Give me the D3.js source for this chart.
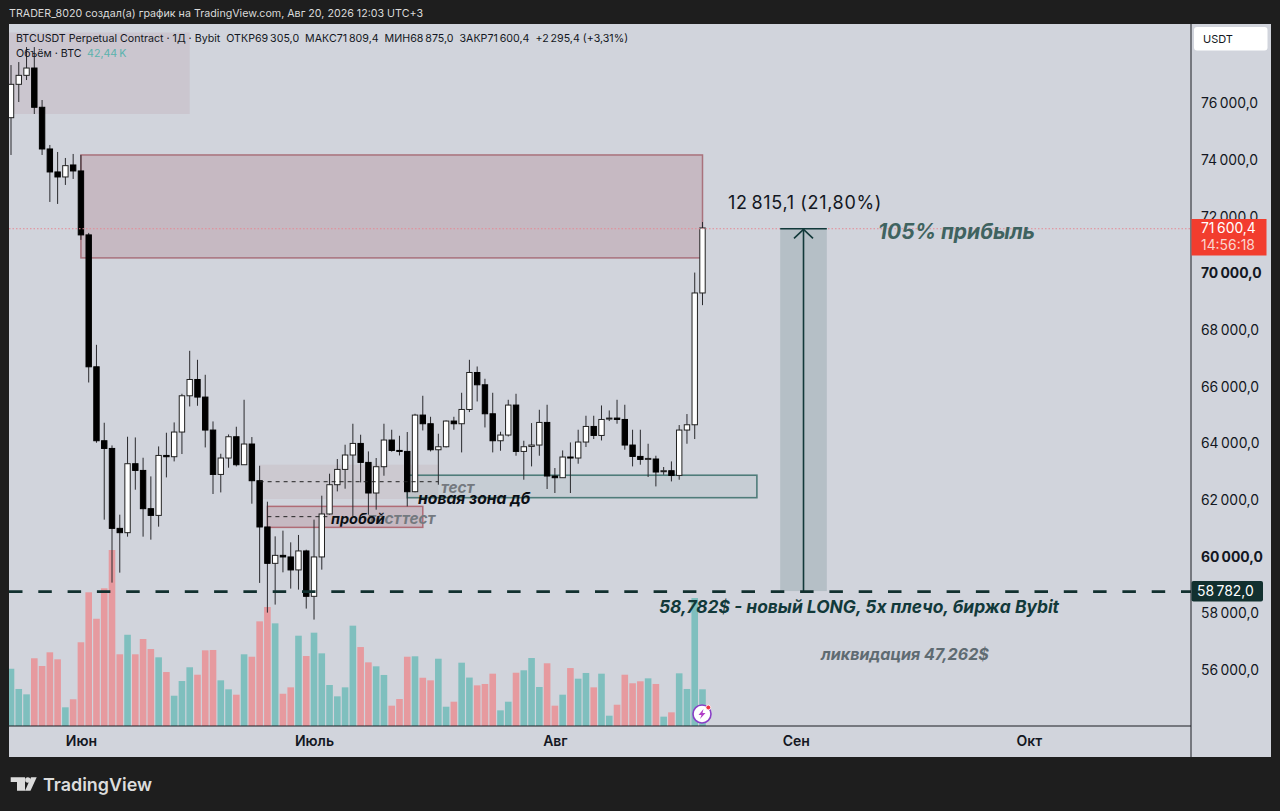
<!DOCTYPE html>
<html><head><meta charset="utf-8">
<script src="https://cdn.jsdelivr.net/npm/d3@7/dist/d3.min.js"></script>
<style>
html,body{margin:0;padding:0;background:#1e1e1e;overflow:hidden}
svg{display:block}
text{font-family:Inter,"Noto Sans",sans-serif}
</style></head><body>
<svg id="c" width="1280" height="811"></svg>
<script>
const firstDay = new Date(2026, 4, 23);
const opens = [75492,76670,76987,77245,75859,74388,73577,73400,73823,73612,71355,66699,64089,63817,60996,60844,63278,63041,61691,61454,63570,63525,64396,65676,66251,65630,64466,62900,63479,64230,63242,63973,62678,61045,59761,60043,59987,59529,60199,58597,59987,61504,62537,63077,63585,63994,63324,62244,63172,64114,63747,63712,62290,64995,64689,63771,63877,64784,64689,65193,66498,66064,65041,64089,64290,65348,63712,63888,63937,64735,62844,62784,63514,63479,64043,64593,64276,64854,64889,64840,63937,63535,63444,63444,63006,63031,62865,64466,64653,69305];
const closes = [76670,76987,77245,75859,74388,73577,73400,73799,73612,71355,66699,64089,63817,60996,60844,63278,63041,61691,61454,63570,63525,64396,65676,66251,65630,64466,62900,63479,64230,63242,63973,62678,61045,59761,60043,59987,59529,60199,58597,59987,61504,62537,63077,63585,63994,63324,62244,63172,64114,63747,63712,62290,64995,64689,63771,63877,64784,64689,65193,66498,66064,65041,64089,64290,65348,63712,63877,63937,64735,62844,62784,63514,63479,64043,64593,64276,64840,64889,64840,63937,63535,63429,63465,62985,63031,62865,64466,64653,69305,71600.4];
const highs = [77350,77456,77985,77985,76116,74529,74282,74070,74211,74176,71425,67475,64724,63923,61479,64230,64205,63489,62830,63888,64371,64735,65747,67263,66946,66417,64770,63630,64311,64583,65535,64219,63207,61937,60714,60915,60502,60763,60244,61303,62149,62925,63444,63948,64689,64301,63712,63479,64689,64477,64265,64396,65041,65676,64935,64336,64805,64935,65782,66946,66710,66276,65782,64406,65535,65747,64089,64713,65182,65359,63126,63747,64029,64477,64971,64971,65334,65158,65535,65359,64477,64477,63983,63560,63161,63359,64643,65031,70025,71809.4];
const lows = [74176,76045,76821,75622,74176,72518,72448,73118,73330,71178,66145,64018,61303,59081,59433,60703,62361,60703,60597,61056,62795,63359,63620,65299,65323,63853,62209,62265,63137,63183,63242,61867,59070,58022,58305,59444,58869,58834,58164,57776,59539,61479,62301,62396,61419,62618,61479,61655,62854,63701,63570,61772,62270,64452,63712,62537,63853,64477,63677,65101,65475,64558,63677,63736,64240,63560,62713,63183,63560,62385,62244,62784,62244,63278,63867,64149,64099,64784,64689,63771,63183,63242,62809,62477,62890,62653,62713,63983,64149,68875];
const volumes = [66.2,42.8,36.6,78.3,69.4,85.2,77.1,21.6,30.9,96.8,154.6,124,159.2,203.5,82.9,105.5,82.9,100.6,89,79.4,62.4,35,52,67.9,59.3,87.5,87.9,52.8,42.4,36.2,82.9,80.1,121,137.6,118.7,37.3,44.7,104.4,80.9,107.9,84,47.4,34.3,44.7,116,91.3,73.6,69,59,23.5,31.2,80.1,80.6,55.8,52.8,77.8,22.3,28.1,73.2,56,47,48.6,60.5,18.1,28.1,61.6,64.4,78.6,45.1,72.5,23.5,36.2,67,54.7,61.3,44.7,60.5,11.9,24.6,59.3,49.4,51.7,55.1,48.6,10.8,15.8,60.9,42.8,148,42.44];
const priceTicks = [76000,74000,72000,70000,68000,66000,64000,62000,60000,58000,56000];
const boldTicks = [70000,60000];
const monthDates = [new Date(2026,5,1),new Date(2026,6,1),new Date(2026,7,1),new Date(2026,8,1),new Date(2026,9,1)];
const monthNames = ["Июн","Июль","Авг","Сен","Окт"];
const entryPrice = 58782, lastPrice = 71600.4;
const zoneTopLeft = [-2,23,78500,75622];
const zoneGrey = [32,55,63242,62033];
const zoneSupply = [9,89,74176,70543];
const zoneBreak = [33,53,61772,61031];
const zoneDemand = [51,96,62872,62079];
const dashGrey = [32,55,62643];
const dashBreak = [33,41,61409];
const measure = [99,105];

const at = i => new Date(+firstDay + i*864e5);
const x = d3.scaleTime().domain([at(0),at(89)]).range([11,702.5]);
const y = d3.scaleLinear().domain([76000,56000]).range([103.3,669.9]);
const v = d3.scaleLinear().domain([0,203.5]).range([726,550]);
const svg = d3.select("#c");
const DARK="#1e1e1e";

svg.append("rect").attr("width",1280).attr("height",811).attr("fill",DARK);
svg.append("rect").attr("x",9).attr("y",24).attr("width",1262).attr("height",733).attr("fill","#d1d4dc");
svg.append("rect").attr("x",1271).attr("y",24).attr("width",9).attr("height",733).attr("fill",DARK);
svg.append("defs").append("clipPath").attr("id","pane").append("rect").attr("x",9).attr("y",24).attr("width",1182).attr("height",702);
const pane = svg.append("g").attr("clip-path","url(#pane)");

const idx = d3.range(opens.length);
const up = i => closes[i] >= opens[i];

pane.append("g").selectAll("rect").data(idx).join("rect")
  .attr("x",i=>x(at(i))-3.3).attr("width",6.6)
  .attr("y",i=>v(volumes[i])).attr("height",i=>726-v(volumes[i]))
  .attr("fill",i=>up(i)?"#7fbfbe":"#e69a9f");

const box=(z,fill,stroke,sw)=>pane.append("rect")
  .attr("x",x(at(z[0]))).attr("width",x(at(z[1]))-x(at(z[0])))
  .attr("y",y(z[2])).attr("height",y(z[3])-y(z[2]))
  .attr("fill",fill).attr("stroke",stroke||"none").attr("stroke-width",sw||0);

box(zoneTopLeft,"rgba(178,140,150,.18)");
box(zoneGrey,"rgba(178,140,150,.16)");
box(zoneSupply,"rgba(170,115,125,.27)","#a9727c",1.5);
box(zoneBreak,"rgba(170,115,125,.27)","#b06c76",1.5);
box(zoneDemand,"rgba(120,160,160,.13)","#4f7c7a",1.6);

const cg = pane.append("g");
cg.selectAll("line").data(idx).join("line")
  .attr("x1",i=>x(at(i))).attr("x2",i=>x(at(i)))
  .attr("y1",i=>y(highs[i])).attr("y2",i=>y(lows[i]))
  .attr("stroke","#2a2a2e").attr("stroke-width",1);
cg.selectAll("rect").data(idx).join("rect")
  .attr("x",i=>x(at(i))-2.7).attr("width",5.4)
  .attr("y",i=>y(Math.max(opens[i],closes[i])))
  .attr("height",i=>Math.max(1,Math.abs(y(opens[i])-y(closes[i]))))
  .attr("fill",i=>up(i)?"#fff":"#000").attr("stroke",i=>up(i)?"#222":"#000").attr("stroke-width",1);

const dash=(d)=>pane.append("line").attr("x1",x(at(d[0]))).attr("x2",x(at(d[1])))
  .attr("y1",y(d[2])).attr("y2",y(d[2])).attr("stroke","#222").attr("stroke-width",1).attr("stroke-dasharray","4 4");
dash(dashGrey);dash(dashBreak);

pane.append("line").attr("x1",9).attr("x2",1191).attr("y1",y(lastPrice)+.8).attr("y2",y(lastPrice)+.8)
  .attr("stroke","#e58a94").attr("stroke-width",1).attr("stroke-dasharray","1.5 2");

pane.append("rect").attr("x",x(at(measure[0]))).attr("width",x(at(measure[1]))-x(at(measure[0])))
  .attr("y",y(lastPrice)).attr("height",y(entryPrice)-y(lastPrice)).attr("fill","#b5bfc6");
const mx=x(at((measure[0]+measure[1])/2));
const AC="#12393a";
pane.append("line").attr("x1",x(at(measure[0]))).attr("x2",x(at(measure[1])))
  .attr("y1",y(lastPrice)+.8).attr("y2",y(lastPrice)+.8).attr("stroke",AC).attr("stroke-width",1.6);
pane.append("line").attr("x1",mx).attr("x2",mx).attr("y1",y(lastPrice)).attr("y2",y(entryPrice)).attr("stroke",AC).attr("stroke-width",1.6);
pane.append("path").attr("d",`M${mx-9.5},${y(lastPrice)+10.5}L${mx},${y(lastPrice)+1.5}L${mx+9.5},${y(lastPrice)+10.5}`)
  .attr("fill","none").attr("stroke",AC).attr("stroke-width",1.6);

pane.append("line").attr("x1",9).attr("x2",1191).attr("y1",y(entryPrice)+.5).attr("y2",y(entryPrice)+.5)
  .attr("stroke","#12302f").attr("stroke-width",2.6).attr("stroke-dasharray","13.5 15.8");

const ann=(t,xp,yp,size,col,w,anchor)=>svg.append("text").text(t).attr("x",xp).attr("y",yp)
  .attr("font-size",size).attr("fill",col).attr("font-weight",w||700).attr("font-style","italic")
  .attr("text-anchor",anchor||"start");
ann("тест",441,493,15.4,"#74797f");
ann("тест",368,524,15.4,"#74797f");
ann("тест",402,524,15.4,"#74797f");
ann("новая зона дб",418,504,15.7,"#0b0f14");
ann("пробой",331,524,14.5,"#0b0f14");
ann("105% прибыль",878,239,21,"#3f6360");
ann("58,782$ - новый LONG, 5x плечо, биржа Bybit",659,613,17.4,"#12393a");
ann("ликвидация 47,262$",821,660,16.1,"#5f6b72");
svg.append("text").text("12\u2009815,1 (21,80%)").attr("x",728).attr("y",209).attr("font-size",18).attr("fill","#131722").attr("letter-spacing",.65);

svg.append("line").attr("x1",1191).attr("x2",1191).attr("y1",24).attr("y2",757).attr("stroke","#1b1d22").attr("stroke-width",1);
svg.append("line").attr("x1",9).attr("x2",1191).attr("y1",726).attr("y2",726).attr("stroke","#1b1d22").attr("stroke-width",1);

const fmt = p => d3.format(",.1f")(p).replace(",","\u2009").replace(".",",");
const ya = svg.append("g").attr("transform","translate(1191,0)")
  .call(d3.axisRight(y).tickValues(priceTicks).tickSize(0).tickPadding(10).tickFormat(fmt));
ya.select(".domain").remove();
ya.selectAll("text").attr("font-size",13.9).attr("fill","#131722")
  .attr("font-family","Inter,sans-serif").attr("font-weight",d=>boldTicks.includes(d)?700:400);
const xa = svg.append("g").attr("transform","translate(0,726)")
  .call(d3.axisBottom(x).tickValues(monthDates).tickSize(0).tickPadding(10).tickFormat((d,i)=>monthNames[i]));
xa.select(".domain").remove();
xa.selectAll("text").attr("font-size",14).attr("font-weight",600).attr("fill","#131722").attr("font-family","Inter,sans-serif");

svg.append("rect").attr("x",1194).attr("y",27).attr("width",73.5).attr("height",23.5).attr("rx",3).attr("fill","#fff");
svg.append("text").text("USDT").attr("x",1203).attr("y",43).attr("font-size",11).attr("fill","#131722");

svg.append("rect").attr("x",1191.5).attr("y",219).attr("width",75).attr("height",36.5).attr("fill","#f23d2e");
svg.append("text").text(fmt(lastPrice)).attr("x",1201).attr("y",233).attr("font-size",13.9).attr("fill","#fff");
svg.append("text").text("14:56:18").attr("x",1201).attr("y",250).attr("font-size",13.9).attr("fill","#fbd5d0");
svg.append("rect").attr("x",1191.5).attr("y",581).attr("width",71.5).attr("height",20.5).attr("rx",2).attr("fill","#12302f");
svg.append("text").text(fmt(entryPrice)).attr("x",1197).attr("y",596).attr("font-size",13.9).attr("fill","#fff");

svg.append("text").text("TRADER_8020 создал(а) график на TradingView.com, Авг 20, 2026 12:03 UTC+3").attr("x",9).attr("y",17).attr("font-size",10.7).attr("fill","#d9d9d9");
svg.append("text").text("BTCUSDT Perpetual Contract · 1Д · Bybit  ОТКР69\u2009305,0  МАКС71\u2009809,4  МИН68\u2009875,0  ЗАКР71\u2009600,4  +2\u2009295,4 (+3,31%)")
  .attr("x",16).attr("y",42).attr("font-size",10.67).attr("fill","#131722").style("white-space","pre");
svg.append("text").text("Объём · BTC").attr("x",16).attr("y",57).attr("font-size",10.67).attr("fill","#131722");
svg.append("text").text("42,44\u2009K").attr("x",87).attr("y",57).attr("font-size",10.67).attr("fill","#5cb3ad");

const ic=svg.append("g").attr("transform","translate(702,714)");
ic.append("circle").attr("r",9).attr("fill","#fff").attr("stroke","#8a3fc7").attr("stroke-width",1.6);
ic.append("path").attr("d","M1.5,-5L-3.5,1L-0.5,1L-2,5L3.5,-1L0.5,-1Z").attr("fill","#b13fc7");
ic.append("circle").attr("cx",6.3).attr("cy",-6.5).attr("r",2.4).attr("fill","#ee3344").attr("stroke","#fff").attr("stroke-width",.8);

const lg=svg.append("g").attr("fill","#dcdcdc");
lg.append("path").attr("d","M10.7,777.3H25V790.7H17V782H10.7Z");
lg.append("circle").attr("cx",27.8).attr("cy",780).attr("r",2.7);
lg.append("path").attr("d","M31,777.3H36.7L30.5,790.7H25Z");
svg.append("text").text("TradingView").attr("x",43).attr("y",791).attr("font-size",17.9).attr("font-weight",600).attr("fill","#dcdcdc");
</script>
</body></html>
